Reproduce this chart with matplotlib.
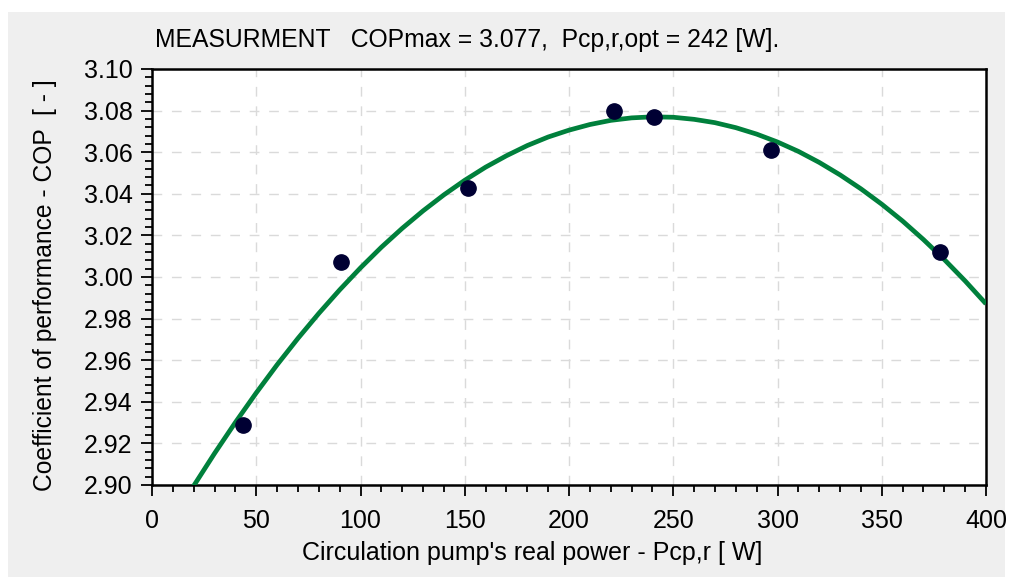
import numpy as np
import matplotlib.pyplot as plt
from matplotlib.patches import Rectangle
from matplotlib.ticker import MultipleLocator, FormatStrFormatter

plt.rcParams['font.family'] = ['Liberation Sans', 'DejaVu Sans']

# measured points
power = [43.6, 90.6, 151.6, 221.6, 240.8, 296.8, 377.8]
cop = [2.929, 3.007, 3.043, 3.080, 3.077, 3.061, 3.012]

# fitted trend line (every 10 W)
fit_power = [20, 30, 40, 50, 60, 70, 80, 90, 100, 110, 120, 130, 140, 150,
             160, 170, 180, 190, 200, 210, 220, 230, 240, 250, 260, 270,
             280, 290, 300, 310, 320, 330, 340, 350, 360, 370, 380, 390, 400]
fit_cop = [2.8996, 2.9152, 2.9301, 2.9443, 2.9578, 2.9705, 2.9825, 2.9938,
           3.0044, 3.0143, 3.0234, 3.0318, 3.0395, 3.0465, 3.0528, 3.0583,
           3.0632, 3.0673, 3.0706, 3.0733, 3.0753, 3.0765, 3.0770, 3.0768,
           3.0758, 3.0742, 3.0718, 3.0687, 3.0649, 3.0604, 3.0551, 3.0491,
           3.0424, 3.0350, 3.0269, 3.0180, 3.0084, 2.9981, 2.9871]

W, H = 1014, 577
fig = plt.figure(figsize=(W / 100, H / 100), dpi=100, facecolor='white')
fig.patches.append(Rectangle((8 / W, 0), (1005 - 8) / W, (H - 12) / H,
                             transform=fig.transFigure, facecolor='#efefef',
                             edgecolor='none', zorder=-10))

ax = fig.add_axes([152 / W, (H - 485) / H, (986 - 152) / W, (485 - 69) / H])
ax.set_facecolor('white')

ax.plot(fit_power, fit_cop, color='#00803c', lw=3.4, zorder=3,
        solid_capstyle='butt', solid_joinstyle='round')
ax.plot(power, cop, 'o', color='#000033', ms=11, zorder=4)

ax.set_xlim(0, 400)
ax.set_ylim(2.90, 3.10)
ax.xaxis.set_major_locator(MultipleLocator(50))
ax.xaxis.set_minor_locator(MultipleLocator(10))
ax.yaxis.set_major_locator(MultipleLocator(0.02))
ax.yaxis.set_minor_locator(MultipleLocator(0.004))
ax.yaxis.set_major_formatter(FormatStrFormatter('%.2f'))
ax.tick_params(which='major', direction='out', length=8, width=1.3,
               labelsize=18, pad=6)
ax.tick_params(axis='x', which='major', pad=9)
ax.tick_params(which='minor', direction='out', length=5, width=1.3)
ax.tick_params(axis='x', which='both', top=False)
ax.tick_params(axis='y', which='both', right=False)
ax.grid(True, which='major', color='#dadada', ls=(0, (7, 7)), lw=1.0)
for s in ax.spines.values():
    s.set_linewidth(1.8)
    s.set_color('black')

fig.text(155 / W, 1 - 40 / H,
         'MEASURMENT   COPmax = 3.077,  Pcp,r,opt = 242 [W].',
         fontsize=17.8, ha='left', va='center')
fig.text(532 / W, 1 - 553 / H, "Circulation pump's real power - Pcp,r [ W]",
         fontsize=18, ha='center', va='center')
fig.text(45 / W, 1 - 285 / H, 'Coefficient of performance - COP  [ - ]',
         fontsize=17.7, ha='center', va='center', rotation=90)

fig.savefig('out.png', dpi=100, facecolor=fig.get_facecolor())
